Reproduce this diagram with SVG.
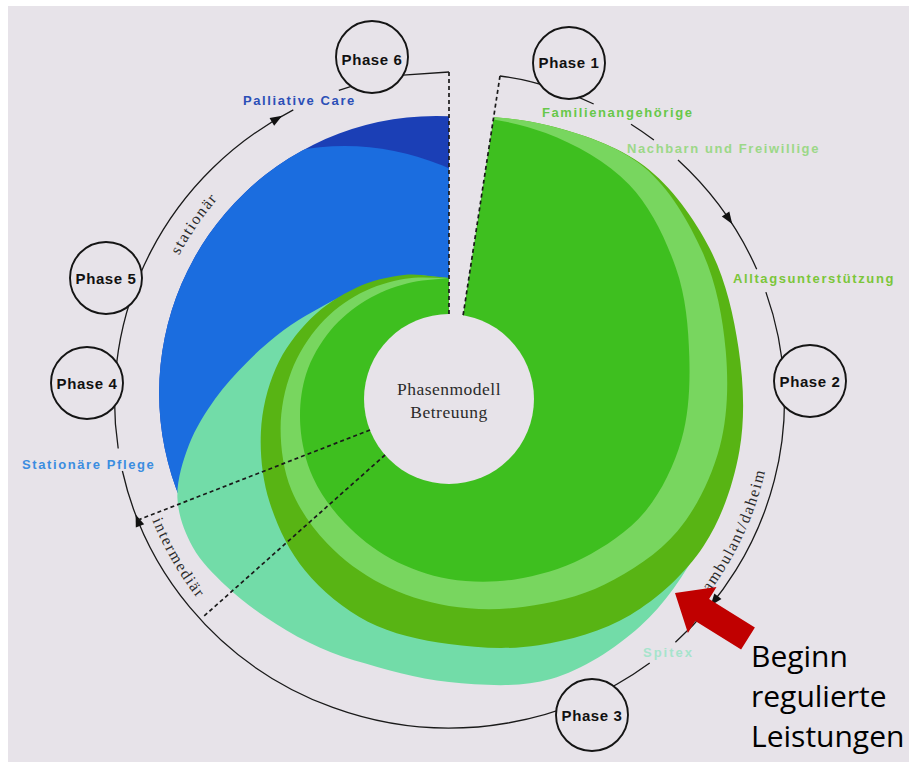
<svg xmlns="http://www.w3.org/2000/svg" width="909" height="762" viewBox="0 0 909 762">
<style>
.lbl{font-family:"Liberation Sans",Arial,sans-serif;font-weight:bold;font-size:13px;letter-spacing:1.6px}
.ph{font-family:"Liberation Sans",Arial,sans-serif;font-weight:bold;font-size:15px;letter-spacing:0.6px;text-anchor:middle;fill:#111}
.ser{font-family:"Liberation Serif","Times New Roman",serif;fill:#2b2b2b;font-size:16px;letter-spacing:1.6px}
.trk{fill:none;stroke:#1a1a1a;stroke-width:1.3}
.dash{fill:none;stroke:#1a1a1a;stroke-width:1.7;stroke-dasharray:4 3}
.pc{fill:#E7E3E9;stroke:#151515;stroke-width:1.9}
.arr{fill:#111}
.big{font-family:"Open Sans","Liberation Sans",sans-serif;font-size:30px;fill:#000}
</style>
<defs>
<clipPath id="blueClip"><path d="M449,116.3 A277,277 0 1 0 449,669.7 Z"/></clipPath>
<path id="tpStat" d="M161.6,294.7 A308,308 0 0 1 345.7,110.6"/>
<path id="tpInt" d="M140,483.3 A322,322 0 0 0 266.3,663.8"/>
<path id="tpAmb" d="M678.7,627.7 A322,322 0 0 0 773,400"/>
<path id="ah" d="M6,0 L-6,-4.5 L-6,4.5 Z"/>
</defs>
<rect x="0" y="0" width="909" height="762" fill="#ffffff"/>
<rect x="8" y="6" width="901" height="756" fill="#E7E3E9"/>

<g id="spiral">
<path d="M449,116.3 A277,277 0 1 0 449,669.7 Z" fill="#1B3FB6"/>
<circle cx="344.6" cy="400" r="254" fill="#1B6DDF" clip-path="url(#blueClip)"/>
<path fill="#72DCA8" d="M449,119 C482,119 515.25,120.2 547.5,128.4 C579.75,136.6 615.9,148.1 642.5,168.4 C669.1,188.7 691.6,220 707.1,250 C722.6,280 730.7,315.2 735.6,348.5 C740.5,381.8 742.4,417 736.6,449.7 C730.8,482.4 717.1,515 701,544.5 C684.9,574 664.9,604.1 639.9,626.5 C614.9,648.9 582.7,669.75 550.9,679 C519.1,688.25 481.8,685.1 449,682 C416.2,678.9 385.1,669 353.9,660.2 C338.3,655.8 323.2,649.45 308.5,642.3 C293.8,635.15 279.5,626.7 265.8,617.3 C252.1,607.9 238.3,597.8 226.1,586.1 C213.9,574.4 200.8,561.7 192.7,547 C184.6,532.3 178,514.8 177.4,497.8 C176.8,480.8 182.7,461.3 189,444.8 C195.3,428.3 205.5,412.6 215,399 C224.5,385.4 235.9,373.7 246.1,363.2 C256.3,352.7 266.25,344 276.1,336.1 C285.95,328.2 296.2,321.2 305.2,316 C323.2,305.6 340.6,296.2 357.1,289.5 C373.6,282.8 388.9,277.8 404.2,275.9 C419.5,274 434.1,277.3 449,278 Z"/>
<path fill="#58B414" d="M449,116 C482,116 515.9,117.15 548.5,125.5 C581.1,133.85 617.5,145.6 644.4,166.1 C671.3,186.6 694,218.2 709.7,248.5 C725.4,278.8 733.5,314.4 738.5,348 C743.5,381.6 745.3,417.2 739.5,450.2 C733.7,483.2 721.8,518.5 703.6,546 C685.4,573.5 657.8,598.5 630.3,615 C602.8,631.5 568.8,640.4 538.6,645.2 C508.4,650 477.45,647.9 449,644 C420.55,640.1 391.9,633.9 367.9,621.7 C343.9,609.5 321.4,590.5 305,570.6 C288.6,550.7 277.05,525.6 269.7,502.5 C262.35,479.4 259.9,454.55 260.9,432.2 C261.9,409.85 267.45,387.3 275.7,368.4 C283.95,349.5 297.05,332.4 310.4,319 C323.75,305.6 340.2,295.2 355.8,287.9 C371.4,280.6 388.4,276.65 403.9,275 C419.4,273.35 434,277 449,278 Z"/>
<path fill="#78D65F" d="M449,116 C482,116 516,117 548.5,125.5 C581,134 618.1,145.7 643.8,166.9 C669.5,188.1 689.05,221.95 702.7,252.5 C716.35,283.05 722.85,317.8 725.7,350.2 C728.55,382.6 727.8,416.6 719.8,446.7 C711.8,476.8 696.8,508.05 677.6,531 C658.4,553.95 630.1,571.8 604.6,584.4 C579.1,597 550.5,603.1 524.6,606.7 C498.7,610.3 472.8,609.8 449,606 C425.2,602.2 401.85,594.5 381.6,584.1 C361.35,573.7 342.5,559.5 327.5,543.8 C312.5,528.1 299.2,509.2 291.4,490 C283.6,470.8 280.6,448.5 280.6,428.7 C280.6,408.9 284.8,388.6 291.4,371.2 C298,353.8 308.5,337.5 320,324.5 C331.5,311.5 346.1,300.9 360.3,293.3 C374.5,285.7 390.4,281.25 405.2,278.7 C420,276.15 434.4,278.2 449,278 Z"/>
<path fill="#3EBF1F" d="M449,116 C481,116 515.8,121.7 545.8,133.1 C575.8,144.5 607.3,162 629,184.5 C650.7,207 665.85,239.3 675.9,268 C685.95,296.7 688.4,327.9 689.3,356.6 C690.2,385.3 688.8,414.1 681.4,440 C674,465.9 661.15,492.3 644.7,512 C628.25,531.7 604.4,547.1 582.7,558.3 C561,569.5 537,575.95 514.7,579.4 C492.4,582.85 469.6,582.45 449,579 C428.4,575.55 408.25,568 390.9,558.7 C373.55,549.4 357.9,536.6 344.9,523.1 C331.9,509.6 320.4,493.8 313,477.5 C305.6,461.2 301.4,442.5 300.3,425.2 C299.2,407.9 301.2,389.6 306.2,373.8 C311.2,358 320.4,342.8 330.4,330.5 C340.4,318.2 353.35,308.05 366.1,300.2 C378.85,292.35 393.1,287.1 406.9,283.4 C420.7,279.7 435,279.8 449,278 Z"/>
<path d="M449,60 L502.5,60 L462.7,318 L449,318 Z" fill="#E7E3E9"/>
</g>

<g id="center">
<circle cx="449" cy="399" r="85" fill="#E7E3E9"/>
<text class="ser" style="font-size:17.5px;letter-spacing:0.5px" x="449" y="395" text-anchor="middle">Phasenmodell</text>
<text class="ser" style="font-size:17.5px;letter-spacing:0.5px" x="449" y="418" text-anchor="middle">Betreuung</text>
</g>

<g id="connectors">
<path class="trk" d="M500,76 Q517,78 530.5,81.7 A335,328 0 0 1 593.7,104"/>
<path class="trk" d="M631,124.3 A335,328 0 0 1 653.9,140.1"/>
<path class="trk" d="M678,160.1 A335,328 0 0 1 756.7,269.2"/>
<path class="trk" d="M765.9,292.1 A335,328 0 0 1 675.4,642.2"/>
<path class="trk" d="M649.7,663 A335,328 0 0 1 122.4,471"/>
<path class="trk" d="M118.2,448.5 A335,328 0 0 1 293.3,109.9"/>
<path class="trk" d="M338.8,90.4 A335,328 0 0 1 402.9,75.2 L449,72"/>
<use href="#ah" class="arr" transform="translate(728.9,219) rotate(56.5)"/>
<use href="#ah" class="arr" transform="translate(714.2,601) rotate(127.8)"/>
<use href="#ah" class="arr" transform="translate(137.8,520.2) rotate(248.5)"/>
<use href="#ah" class="arr" transform="translate(277,118.8) rotate(329)"/>
<path class="dash" d="M449,72 L449,316"/>
<path class="dash" d="M500,76 L463,316"/>
<path class="dash" d="M370,430 L138,520"/>
<path class="dash" d="M385,455 L203,617"/>
</g>

<g id="labels">
<text class="lbl" x="243" y="105" fill="#2C4FB7">Palliative Care</text>
<text class="lbl" x="542" y="117" fill="#67C84A">Familienangehörige</text>
<text class="lbl" x="627" y="153" fill="#9CD888">Nachbarn und Freiwillige</text>
<text class="lbl" x="733" y="283" fill="#7BC63A">Alltagsunterstützung</text>
<text class="lbl" x="22" y="469" fill="#3B8DE0">Stationäre Pflege</text>
<text class="lbl" x="643" y="657" fill="#A6E4CC" style="letter-spacing:2px">Spitex</text>
<text class="ser"><textPath href="#tpStat" startOffset="43">stationär</textPath></text>
<text class="ser"><textPath href="#tpInt" startOffset="39">intermediär</textPath></text>
<text class="ser"><textPath href="#tpAmb" startOffset="47">ambulant/daheim</textPath></text>
</g>

<g id="phase6"><circle class="pc" cx="372" cy="57" r="36"/><text class="ph" x="372" y="65">Phase 6</text></g>
<g id="phase1"><circle class="pc" cx="569" cy="63" r="36"/><text class="ph" x="569" y="68">Phase 1</text></g>
<g id="phase2"><circle class="pc" cx="810" cy="381" r="36"/><text class="ph" x="810" y="387">Phase 2</text></g>
<g id="phase3"><circle class="pc" cx="592" cy="715" r="36"/><text class="ph" x="592" y="721">Phase 3</text></g>
<g id="phase4"><circle class="pc" cx="87" cy="383" r="36"/><text class="ph" x="87" y="389">Phase 4</text></g>
<g id="phase5"><circle class="pc" cx="106" cy="278" r="36"/><text class="ph" x="106" y="284">Phase 5</text></g>

<g id="callout">
<polygon points="675,593 716.5,587 709.1,599 754.9,627.6 741.1,649.6 695.3,621 687.9,633" fill="#C00000"/>
<text class="big" x="751" y="667">Beginn</text>
<text class="big" x="751" y="707">regulierte</text>
<text class="big" x="751" y="747">Leistungen</text>
</g>
</svg>
